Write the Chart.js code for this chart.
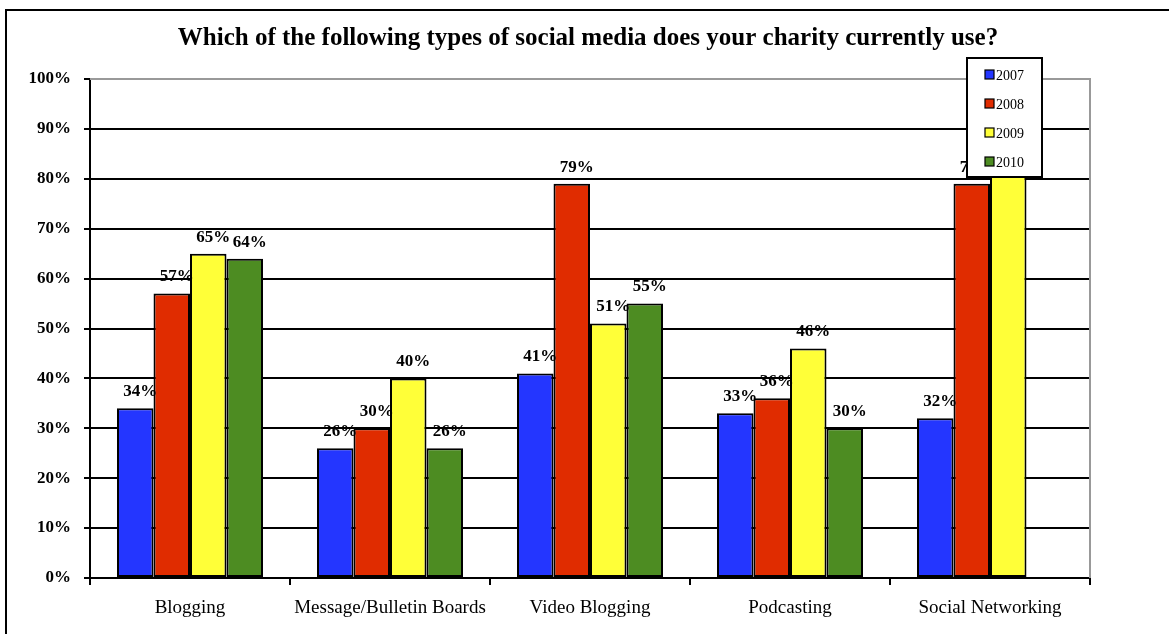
<!DOCTYPE html>
<html>
<head>
<meta charset="utf-8">
<script src="https://cdn.jsdelivr.net/npm/chart.js@4.4.1/dist/chart.umd.min.js"></script>
<style>
  html, body { margin: 0; padding: 0; background: #fff; overflow: hidden; }
  #wrap { position: relative; width: 1169px; height: 634px; }
  #frame { position: absolute; left: 5px; top: 9px; width: 1300px; height: 800px; border: 2px solid #000; box-sizing: border-box; pointer-events: none; }
</style>
</head>
<body>
<div id="wrap">
  <canvas id="chart" width="1169" height="634"></canvas>
  <div id="frame"></div>
</div>
<script>
// chart data
const categories = ['Blogging', 'Message/Bulletin Boards', 'Video Blogging', 'Podcasting', 'Social Networking'];
const years = ['2007', '2008', '2009', '2010'];
const v2007 = [34, 26, 41, 33, 32];
const v2008 = [57, 30, 79, 36, 79];
const v2009 = [65, 40, 51, 46, 86];
const v2010 = [64, 26, 55, 30, null];
const yTicks = [0, 10, 20, 30, 40, 50, 60, 70, 80, 90, 100];
const colors = ['#2436ff', '#e02c00', '#ffff38', '#4d8c22'];
const titleText = 'Which of the following types of social media does your charity currently use?';

const serif = '"Liberation Serif", "DejaVu Serif", serif';

const datasets = [v2007, v2008, v2009, v2010].map(function (vals, i) {
  return {
    label: years[i],
    data: vals,
    backgroundColor: colors[i],
    borderColor: '#000',
    borderWidth: 2,
    borderSkipped: false,
    barPercentage: 1,
    categoryPercentage: 0.73
  };
});

// title, data labels, plot frame, legend
const decorPlugin = {
  id: 'decor',
  afterDatasetsDraw(chart) {
    const ctx = chart.ctx;
    const a = chart.chartArea;
    ctx.save();
    // gray top and right border
    ctx.strokeStyle = '#999';
    ctx.lineWidth = 2;
    ctx.beginPath();
    ctx.moveTo(a.left, a.top);
    ctx.lineTo(a.right, a.top);
    ctx.lineTo(a.right, a.bottom);
    ctx.stroke();
    // value labels
    ctx.fillStyle = '#000';
    ctx.font = 'bold 17px ' + serif;
    ctx.textAlign = 'center';
    ctx.textBaseline = 'bottom';
    chart.data.datasets.forEach(function (ds, di) {
      const meta = chart.getDatasetMeta(di);
      meta.data.forEach(function (bar, i) {
        if (ds.data[i] == null) return;
        ctx.fillText(ds.data[i] + '%', bar.x + 5, bar.y - 8);
      });
    });
    ctx.restore();
  },
  afterDraw(chart) {
    const ctx = chart.ctx;
    ctx.save();
    // title
    ctx.fillStyle = '#000';
    ctx.font = 'bold 25px ' + serif;
    ctx.textAlign = 'center';
    ctx.textBaseline = 'middle';
    ctx.fillText(titleText, 588, 39);
    // legend box on top of the bars
    const lx = 967, ly = 58, lw = 75, lh = 119;
    ctx.fillStyle = '#fff';
    ctx.fillRect(lx, ly, lw, lh);
    ctx.strokeStyle = '#000';
    ctx.lineWidth = 2;
    ctx.strokeRect(lx, ly, lw, lh);
    ctx.font = '14px ' + serif;
    ctx.textAlign = 'left';
    chart.data.datasets.forEach(function (ds, i) {
      const cy = ly + 17 + i * 29;
      ctx.fillStyle = ds.backgroundColor;
      ctx.fillRect(lx + 18, cy - 5, 9, 9);
      ctx.lineWidth = 1.2;
      ctx.strokeRect(lx + 18, cy - 5, 9, 9);
      ctx.fillStyle = '#000';
      ctx.fillText(ds.label, lx + 29, cy + 1);
    });
    ctx.restore();
  }
};

new Chart(document.getElementById('chart').getContext('2d'), {
  type: 'bar',
  data: { labels: categories, datasets: datasets },
  plugins: [decorPlugin],
  options: {
    responsive: false,
    animation: false,
    layout: { padding: { top: 79, right: 79, left: 0, bottom: 0 } },
    plugins: {
      legend: { display: false },
      title: { display: false },
      tooltip: { enabled: false }
    },
    scales: {
      x: {
        offset: true,
        grid: { display: true, drawOnChartArea: false, drawTicks: true, tickLength: 7, color: '#000', lineWidth: 2, offset: true },
        border: { color: '#000', width: 2 },
        ticks: { color: '#000', font: { family: serif, size: 19 }, padding: 12, maxRotation: 0 },
        afterFit: function (s) { s.height = 56; }
      },
      y: {
        min: 0,
        max: 100,
        afterBuildTicks: function (s) { s.ticks = yTicks.map(function (v) { return { value: v }; }); },
        grid: {
          color: function (c) { return c.tick && c.tick.value === 100 ? '#999' : '#000'; },
          lineWidth: 2,
          tickLength: 6,
          tickColor: '#000'
        },
        border: { color: '#000', width: 2 },
        ticks: {
          color: '#000',
          font: { family: serif, size: 17, weight: 'bold' },
          padding: 13,
          callback: function (v) { return v + '%'; }
        },
        afterFit: function (s) { s.width = 90; }
      }
    }
  }
});
</script>
</body>
</html>
